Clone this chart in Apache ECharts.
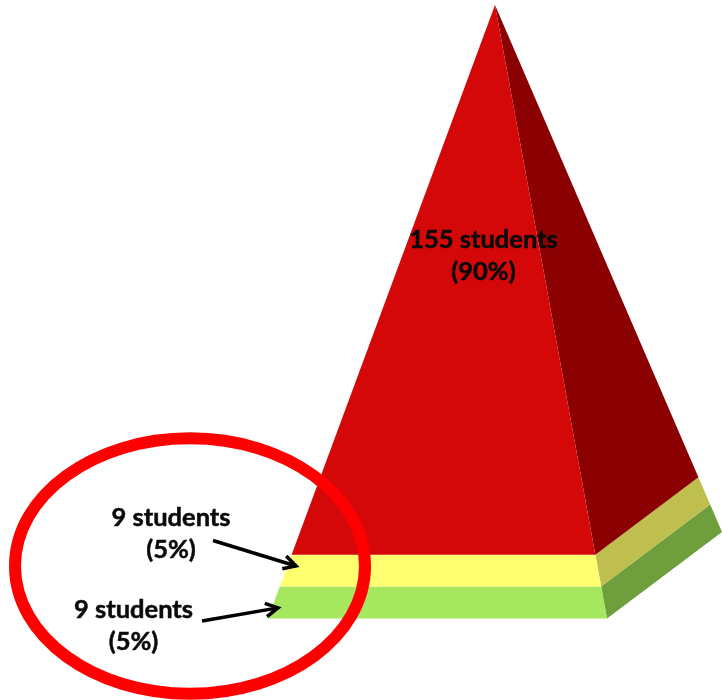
<!DOCTYPE html>
<html>
<head>
<meta charset="utf-8">
<style>html,body{margin:0;padding:0;background:#fff}#c{width:722px;height:700px}</style>
<script src="https://cdn.jsdelivr.net/npm/echarts@6/dist/echarts.min.js"></script>
</head>
<body>
<div id="c"></div>
<script>
// Data: bottom layer first
const categories = ['Green band', 'Yellow band', 'Red band'];
const students = [9, 9, 155];
const percents = [5, 5, 90];

// Styles
const frontColors = ['#a5e85f', '#ffff70', '#d40808'];
const sideColors = ['#6f9e3c', '#bfbf4f', '#8b0000'];
const font = 'Lato, "Open Sans", sans-serif';

const total = students.reduce((a, b) => a + b, 0);
let running = 0;
const bands = students.map((s, i) => {
  const row = [running, running + s, i];
  running += s;
  return row;
});

// Pyramid geometry in axis units (x: drawing width, y: cumulative students)
const apex = [495, total];
const frontLeft = [268, 0];
const frontRight = [607, 0];
const backRight = [722, 24.4];
function along(corner, v) {
  const t = v / total;
  return [corner[0] + (apex[0] - corner[0]) * t, corner[1] + (apex[1] - corner[1]) * t];
}

// Annotation anchors in axis units
const labelAnchors = [[133.5, -2], [171, 24], [483.5, 102.4]];
const pointerTails = [[202, -0.7], [213, 22]];
const pointerTips = [[278, 3], [296, 14.8]];
const ringCentre = [190, 14.8];
const ringRadii = [175, 36];

const chart = echarts.init(document.getElementById('c'), null, { renderer: 'canvas' });

function renderBand(params, api) {
  const lo = api.value(0), hi = api.value(1), idx = api.value(2);
  const P = (c, v) => api.coord(along(c, v));
  return {
    type: 'group',
    children: [
      { type: 'polygon', shape: { points: [P(frontRight, lo), P(backRight, lo), P(backRight, hi), P(frontRight, hi)] },
        style: { fill: sideColors[idx] } },
      { type: 'polygon', shape: { points: [P(frontLeft, lo), P(frontRight, lo), P(frontRight, hi), P(frontLeft, hi)] },
        style: { fill: frontColors[idx] } }
    ]
  };
}

function renderLabel(params, api) {
  const i = params.dataIndex;
  const p = api.coord(labelAnchors[i]);
  return {
    type: 'text',
    style: {
      x: p[0], y: p[1],
      text: students[i] + ' students\n(' + percents[i] + '%)',
      font: 'bold 25.5px ' + font, fill: '#0a0a0a',
      stroke: '#0a0a0a', lineWidth: 0.5,
      align: 'center', verticalAlign: 'middle', lineHeight: 32
    }
  };
}

function renderPointer(params, api) {
  const i = params.dataIndex;
  const a = api.coord(pointerTails[i]), b = api.coord(pointerTips[i]);
  const ang = Math.atan2(b[1] - a[1], b[0] - a[0]);
  const head = s => [b[0] - 14 * Math.cos(ang + s * 0.5), b[1] - 14 * Math.sin(ang + s * 0.5)];
  const st = { stroke: '#000', lineWidth: 3.5, fill: null, lineCap: 'butt', lineJoin: 'miter' };
  return {
    type: 'group',
    children: [
      { type: 'line', shape: { x1: a[0], y1: a[1], x2: b[0], y2: b[1] }, style: st },
      { type: 'polyline', shape: { points: [head(1), b, head(-1)] }, style: st }
    ]
  };
}

function renderRing(params, api) {
  const c = api.coord(ringCentre);
  const s = api.size(ringRadii);
  return {
    type: 'ellipse',
    shape: { cx: c[0], cy: c[1], rx: s[0], ry: s[1] },
    style: { fill: null, stroke: '#ff0000', lineWidth: 12 }
  };
}

chart.setOption({
  animation: false,
  backgroundColor: '#ffffff',
  tooltip: { show: false },
  grid: { left: 0, right: 0, top: 5, bottom: 81.5 },
  xAxis: { type: 'value', min: 0, max: 722, show: false },
  yAxis: { type: 'value', min: 0, max: total, show: false },
  series: [
    { type: 'custom', name: 'Students', renderItem: renderBand, data: bands, z: 2, silent: true,
      encode: { x: -1, y: [0, 1] }, clip: false },
    { type: 'custom', name: 'Ring', renderItem: renderRing, data: [[0]], z: 3, silent: true,
      encode: { x: -1, y: -1 }, clip: false },
    { type: 'custom', name: 'Pointers', renderItem: renderPointer, data: [[0], [1]], z: 4, silent: true,
      encode: { x: -1, y: -1 }, clip: false },
    { type: 'custom', name: 'Labels', renderItem: renderLabel, data: [[0], [1], [2]], z: 5, silent: true,
      encode: { x: -1, y: -1 }, clip: false }
  ]
});
</script>
</body>
</html>
